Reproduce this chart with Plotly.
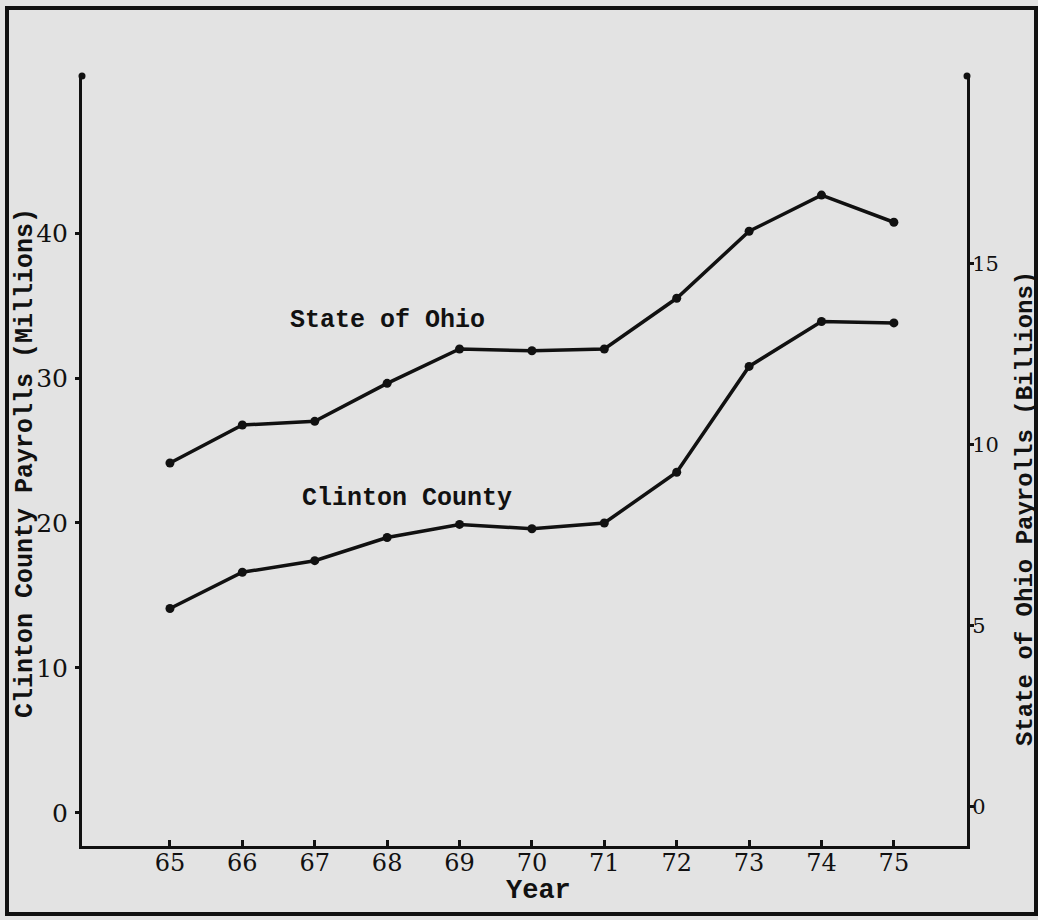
# Clinton County vs State of Ohio payrolls, 1965-1975
import plotly.graph_objects as go

years = [65, 66, 67, 68, 69, 70, 71, 72, 73, 74, 75]
clinton_millions = [14.1, 16.6, 17.4, 19.0, 19.9, 19.6, 20.0, 23.5, 30.8, 33.9, 33.8]
ohio_billions = [9.5, 10.55, 10.65, 11.7, 12.65, 12.6, 12.65, 14.05, 15.9, 16.9, 16.15]

left_ticks = [0, 10, 20, 30, 40]
right_ticks = [0, 5, 10, 15]

INK = "#111111"
PAPER = "#e3e3e3"
TYPE = "Liberation Mono, Courier New, monospace"
NUMS = "DejaVu Serif, serif"

W, H = 1038, 920
L, R, T, B = 82, 71, 76, 74
PW, PH = W - L - R, H - T - B


def px_x(px):
    return (px - L) / PW


def px_y(py):
    return (H - B - py) / PH


def series(x, y, name, axis):
    return go.Scatter(
        x=x,
        y=y,
        name=name,
        yaxis=axis,
        mode="lines+markers",
        line=dict(color=INK, width=3.5),
        marker=dict(size=9, color=INK),
        showlegend=False,
    )


fig = go.Figure()
fig.add_trace(series(years, clinton_millions, "Clinton County", "y"))
fig.add_trace(series(years, ohio_billions, "State of Ohio", "y2"))

axis_common = dict(
    showline=True,
    linecolor=INK,
    linewidth=3,
    showgrid=False,
    zeroline=False,
    tickcolor=INK,
    tickwidth=2.5,
)

fig.update_layout(
    width=W,
    height=H,
    autosize=False,
    margin=dict(l=L, r=R, t=T, b=B),
    paper_bgcolor=PAPER,
    plot_bgcolor=PAPER,
    xaxis=dict(
        range=[63.785, 76.01],
        tickvals=years,
        ticks="inside",
        ticklen=6,
        ticklabelstandoff=-7,
        tickfont=dict(family=NUMS, size=24, color=INK),
        **axis_common,
    ),
    yaxis=dict(
        range=[-2.28, 50.83],
        tickvals=left_ticks,
        ticks="outside",
        ticklen=4,
        ticklabelstandoff=2,
        tickfont=dict(family=NUMS, size=25, color=INK),
        **axis_common,
    ),
    yaxis2=dict(
        range=[-1.08, 20.19],
        tickvals=right_ticks,
        overlaying="y",
        side="right",
        ticks="outside",
        ticklen=4,
        ticklabelstandoff=-6,
        tickfont=dict(family=NUMS, size=21, color=INK),
        **axis_common,
    ),
)

label_font = dict(family=TYPE, size=25, color=INK, weight="bold")


def label(text, x, y, ref="paper", angle=0, size=25):
    fig.add_annotation(text=text, x=x, y=y, xref="x" if ref == "data" else "paper",
                       yref="y" if ref == "data" else "paper", textangle=angle,
                       xanchor="center", yanchor="middle", showarrow=False,
                       font=dict(label_font, size=size))


label("State of Ohio", 68.0, 34.0, ref="data")
label("Clinton County", 68.28, 21.7, ref="data")
label("Year", px_x(538), px_y(891), size=27)
label("Clinton County Payrolls (Millions)", px_x(25), px_y(463), angle=-90)
label("State of Ohio Payrolls (Billions)", px_x(1025), px_y(509), angle=-90, size=24)

# scanned page frame
fig.add_shape(type="rect", xref="paper", yref="paper",
              x0=px_x(7), x1=px_x(1036), y0=px_y(914), y1=px_y(8),
              line=dict(color=INK, width=4), layer="below")

# end dots on top of both vertical axes
for ax_px in (L, W - R):
    fig.add_shape(type="circle", xref="paper", yref="paper",
                  x0=px_x(ax_px - 3.5), x1=px_x(ax_px + 3.5),
                  y0=px_y(T + 3.5), y1=px_y(T - 3.5),
                  fillcolor=INK, line=dict(width=0))

fig.write_html(
    "out.html",
    config={"displayModeBar": False},
    post_script=f"document.body.style.margin='0';document.body.style.background='{PAPER}';",
)
